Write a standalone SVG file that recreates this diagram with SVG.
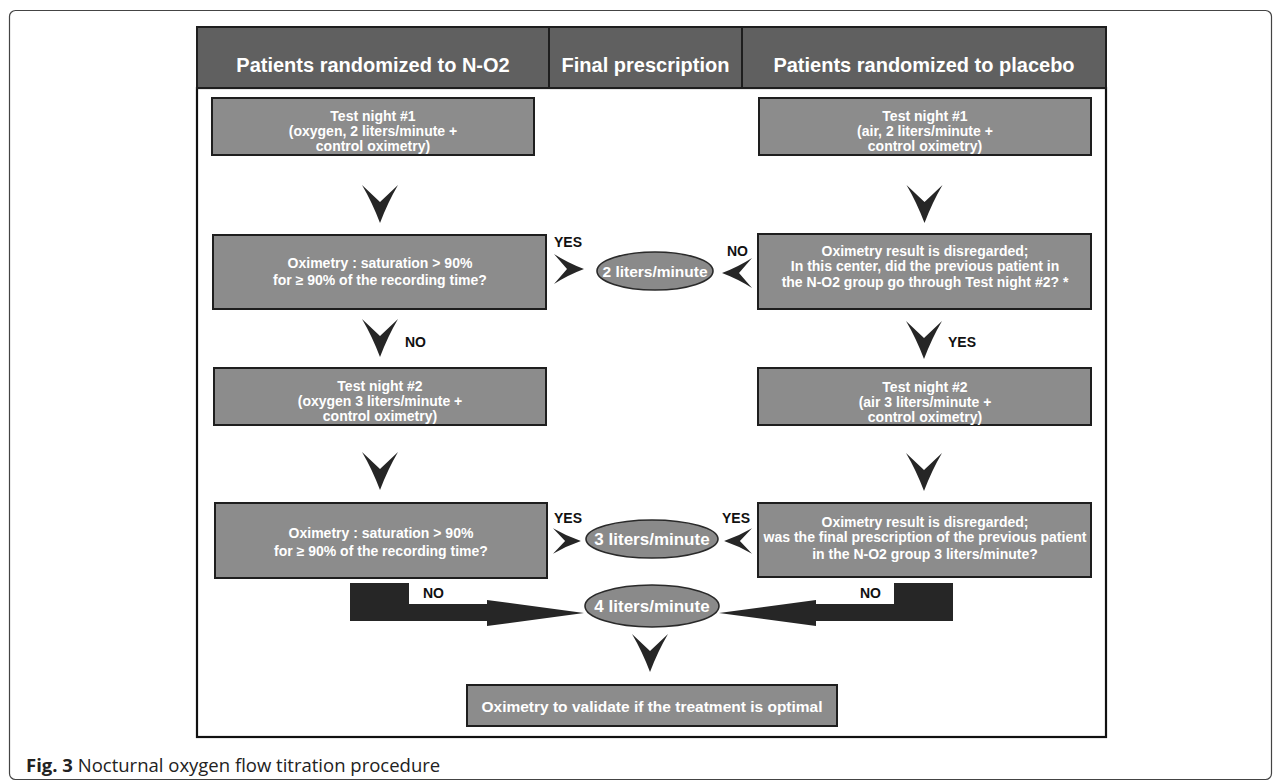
<svg xmlns="http://www.w3.org/2000/svg" xmlns:xlink="http://www.w3.org/1999/xlink" width="1281" height="782" viewBox="0 0 1281 782">
<style>
.frame{fill:none;stroke:#444;stroke-width:1.2}
.hdr{fill:#606060;stroke:#1e1e1e;stroke-width:2}
.hdrt{font-family:"Liberation Sans",Arial,sans-serif;font-weight:bold;font-size:20px;fill:#fff;text-anchor:middle}
.main{fill:#fff;stroke:#111;stroke-width:2.2}
.box{fill:#8c8c8c;stroke:#1e1e1e;stroke-width:2}
.bt{font-family:"Liberation Sans",Arial,sans-serif;font-weight:bold;font-size:14px;fill:#fff;text-anchor:middle}
.ell{fill:#8a8a8a;stroke:#2a2a2a;stroke-width:1.6}
.et{font-family:"Liberation Sans",Arial,sans-serif;font-weight:bold;font-size:17px;fill:#fff;text-anchor:middle}
.lbl{font-family:"Liberation Sans",Arial,sans-serif;font-weight:bold;font-size:14px;fill:#111}
.chev{fill:#262626}
.cap{font-family:"Open Sans","Noto Sans",sans-serif;font-size:18.5px;fill:#222}
</style>
<defs>
<path id="chD" d="M-18,0 L0,17 L18,0 Q8,17 0,38 Q-8,17 -18,0 Z"/>
<path id="chR" d="M0,-15 L13,0 L0,15 Q14,6 30,0 Q14,-6 0,-15 Z"/>
</defs>
<rect class="frame" x="9.5" y="10.5" width="1262" height="769" rx="6"/>
<g id="mainframe">
<rect class="main" x="197" y="88" width="909" height="649"/>
</g>
<g id="header">
<rect class="hdr" x="197" y="27" width="909" height="61"/>
<line x1="549" y1="27" x2="549" y2="88" stroke="#1e1e1e" stroke-width="2"/>
<line x1="742" y1="27" x2="742" y2="88" stroke="#1e1e1e" stroke-width="2"/>
<text class="hdrt" x="373" y="72">Patients randomized to N-O2</text>
<text class="hdrt" x="645.5" y="72">Final prescription</text>
<text class="hdrt" x="924" y="72">Patients randomized to placebo</text>
</g>
<g id="L1">
<rect class="box" x="212" y="98" width="322" height="57"/>
<text class="bt" x="373" y="121">Test night #1</text>
<text class="bt" x="373" y="136">(oxygen, 2 liters/minute +</text>
<text class="bt" x="373" y="151">control oximetry)</text>
</g>
<g id="L2">
<rect class="box" x="213" y="235" width="333" height="74"/>
<text class="bt" x="380" y="268">Oximetry : saturation &gt; 90%</text>
<text class="bt" x="380" y="285">for ≥ 90% of the recording time?</text>
</g>
<g id="L3">
<rect class="box" x="214" y="368" width="332" height="57"/>
<text class="bt" x="380" y="391">Test night #2</text>
<text class="bt" x="380" y="406">(oxygen 3 liters/minute +</text>
<text class="bt" x="380" y="421">control oximetry)</text>
</g>
<g id="L4">
<rect class="box" x="215" y="503" width="332" height="75"/>
<text class="bt" x="381" y="538">Oximetry : saturation &gt; 90%</text>
<text class="bt" x="381" y="556">for ≥ 90% of the recording time?</text>
</g>
<g id="R1">
<rect class="box" x="759" y="98" width="332" height="57"/>
<text class="bt" x="925" y="121">Test night #1</text>
<text class="bt" x="925" y="136">(air, 2 liters/minute +</text>
<text class="bt" x="925" y="151">control oximetry)</text>
</g>
<g id="R2">
<rect class="box" x="758" y="234" width="333" height="75"/>
<text class="bt" x="925" y="256">Oximetry result is disregarded;</text>
<text class="bt" x="925" y="271">In this center, did the previous patient in</text>
<text class="bt" x="925" y="287">the N-O2 group go through Test night #2? *</text>
</g>
<g id="R3">
<rect class="box" x="758" y="368" width="333" height="57"/>
<text class="bt" x="925" y="392">Test night #2</text>
<text class="bt" x="925" y="407">(air 3 liters/minute +</text>
<text class="bt" x="925" y="422">control oximetry)</text>
</g>
<g id="R4">
<rect class="box" x="758" y="503" width="333" height="74"/>
<text class="bt" x="925" y="527">Oximetry result is disregarded;</text>
<text class="bt" x="925" y="542">was the final prescription of the previous patient</text>
<text class="bt" x="925" y="559">in the N-O2 group 3 liters/minute?</text>
</g>
<g id="E2">
<ellipse class="ell" cx="655" cy="271" rx="58" ry="19"/>
<text class="et" x="655" y="277" style="font-size:15.5px">2 liters/minute</text>
</g>
<g id="E3">
<ellipse class="ell" cx="652" cy="539" rx="66" ry="19"/>
<text class="et" x="652" y="545">3 liters/minute</text>
</g>
<g id="E4">
<ellipse class="ell" cx="652" cy="606" rx="67" ry="21"/>
<text class="et" x="652" y="612">4 liters/minute</text>
</g>
<g id="F">
<rect class="box" x="467" y="685" width="370" height="41"/>
<text class="bt" x="652" y="712" style="font-size:15.5px">Oximetry to validate if the treatment is optimal</text>
</g>
<g id="connectors">
<use class="chev" xlink:href="#chD" href="#chD" transform="translate(380,185)"/>
<use class="chev" xlink:href="#chD" href="#chD" transform="translate(380,319)"/>
<use class="chev" xlink:href="#chD" href="#chD" transform="translate(380,452)"/>
<use class="chev" xlink:href="#chD" href="#chD" transform="translate(924.5,185)"/>
<use class="chev" xlink:href="#chD" href="#chD" transform="translate(924,321)"/>
<use class="chev" xlink:href="#chD" href="#chD" transform="translate(924,453)"/>
<use class="chev" xlink:href="#chD" href="#chD" transform="translate(650,634)"/>
<use class="chev" xlink:href="#chR" href="#chR" transform="translate(554,269)"/>
<use class="chev" xlink:href="#chR" href="#chR" transform="translate(752,273) scale(-1,1)"/>
<use class="chev" xlink:href="#chR" href="#chR" transform="translate(553,541) scale(0.93,0.85)"/>
<use class="chev" xlink:href="#chR" href="#chR" transform="translate(752,541) scale(-0.93,0.85)"/>
<polygon class="chev" points="350,583 409,583 409,604 487,604 487,600 584,613 487,626 487,621 350,621"/>
<polygon class="chev" points="953,583 894,583 894,604 816,604 816,600 719,613 816,626 816,621 953,621"/>
<text class="lbl" x="554" y="247">YES</text>
<text class="lbl" x="727" y="256">NO</text>
<text class="lbl" x="405" y="347">NO</text>
<text class="lbl" x="948" y="347">YES</text>
<text class="lbl" x="554" y="523">YES</text>
<text class="lbl" x="722" y="523">YES</text>
<text class="lbl" x="423" y="598">NO</text>
<text class="lbl" x="860" y="598">NO</text>
</g>
<text class="cap" x="26" y="772"><tspan font-weight="bold">Fig. 3</tspan> Nocturnal oxygen flow titration procedure</text>
</svg>
